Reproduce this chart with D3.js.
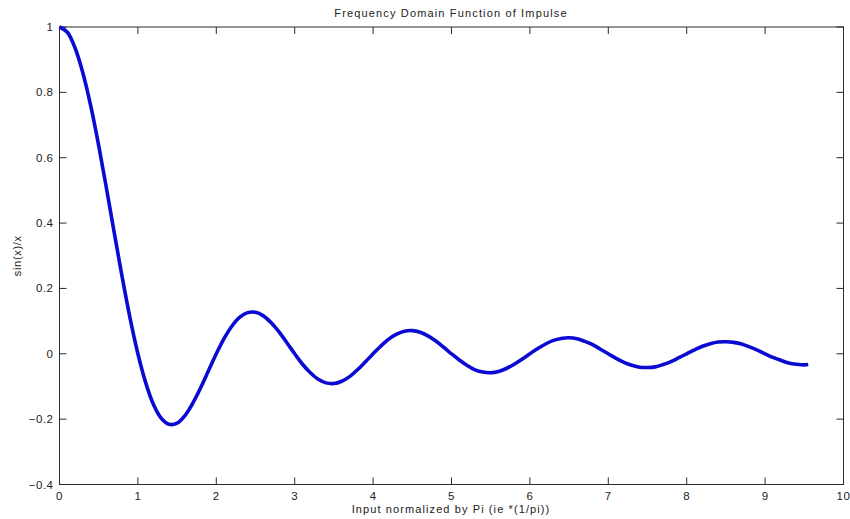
<!DOCTYPE html>
<html>
<head>
<meta charset="utf-8">
<script src="https://cdn.jsdelivr.net/npm/d3@7"></script>
<style>
  body { margin: 0; background: #fff; }
  text { font-family: "Liberation Sans", Arial, sans-serif; fill: #222; }
</style>
</head>
<body>
<svg id="chart" width="850" height="519"></svg>
<script>
// ======== DATA ========
const xValues = [
  0, 0.1, 0.2, 0.3, 0.4, 0.5, 0.6, 0.7, 0.8, 0.9,
  1.0, 1.1, 1.2, 1.3, 1.4, 1.5, 1.6, 1.7, 1.8, 1.9,
  2.0, 2.1, 2.2, 2.3, 2.4, 2.5, 2.6, 2.7, 2.8, 2.9,
  3.0, 3.1, 3.2, 3.3, 3.4, 3.5, 3.6, 3.7, 3.8, 3.9,
  4.0, 4.1, 4.2, 4.3, 4.4, 4.5, 4.6, 4.7, 4.8, 4.9,
  5.0, 5.1, 5.2, 5.3, 5.4, 5.5, 5.6, 5.7, 5.8, 5.9,
  6.0, 6.1, 6.2, 6.3, 6.4, 6.5, 6.6, 6.7, 6.8, 6.9,
  7.0, 7.1, 7.2, 7.3, 7.4, 7.5, 7.6, 7.7, 7.8, 7.9,
  8.0, 8.1, 8.2, 8.3, 8.4, 8.5, 8.6, 8.7, 8.8, 8.9,
  9.0, 9.1, 9.2, 9.3, 9.4, 9.5, 9.55
];
const yValues = [
  1.000, 0.984, 0.935, 0.858, 0.757, 0.637, 0.505, 0.368, 0.234, 0.109,
  0.000, -0.089, -0.156, -0.198, -0.216, -0.212, -0.189, -0.151, -0.104, -0.052,
  0.000, 0.047, 0.085, 0.112, 0.126, 0.127, 0.116, 0.095, 0.067, 0.034,
  0.000, -0.032, -0.058, -0.078, -0.089, -0.091, -0.084, -0.070, -0.049, -0.025,
  0.000, 0.024, 0.045, 0.060, 0.069, 0.071, 0.066, 0.055, 0.039, 0.020,
  0.000, -0.019, -0.036, -0.049, -0.056, -0.058, -0.054, -0.045, -0.032, -0.017,
  0.000, 0.016, 0.030, 0.041, 0.047, 0.049, 0.046, 0.038, 0.028, 0.014,
  0.000, -0.014, -0.026, -0.035, -0.041, -0.042, -0.040, -0.033, -0.024, -0.012,
  0.000, 0.012, 0.023, 0.031, 0.036, 0.037, 0.035, 0.030, 0.021, 0.011,
  0.000, -0.011, -0.020, -0.028, -0.032, -0.034, -0.033
];
const xTicks = [0, 1, 2, 3, 4, 5, 6, 7, 8, 9, 10];
const yTicks = [-0.4, -0.2, 0, 0.2, 0.4, 0.6, 0.8, 1];
const titleText = 'Frequency Domain Function of Impulse';
const xLabelText = 'Input normalized by Pi (ie *(1/pi))';
const yLabelText = 'sin(x)/x';

// ======== LAYOUT ========
const svg = d3.select('#chart');
const margin = { left: 59.5, right: 6.5, top: 27, bottom: 34.5 };
const W = 850, H = 519;
const x = d3.scaleLinear().domain([0, 10]).range([margin.left, W - margin.right]);
const y = d3.scaleLinear().domain([-0.4, 1]).range([H - margin.bottom, margin.top]);
const TICK = 7;

const axisColor = '#2a2a2a';

// frame
svg.append('rect')
  .attr('x', x(0)).attr('y', y(1))
  .attr('width', x(10) - x(0)).attr('height', y(-0.4) - y(1))
  .attr('fill', 'none').attr('stroke', axisColor).attr('stroke-width', 1);

// inward ticks on all four sides
const fmt = d => d3.format('~g')(d);
xTicks.forEach(t => {
  svg.append('line').attr('x1', x(t)).attr('x2', x(t))
    .attr('y1', y(-0.4)).attr('y2', y(-0.4) - TICK)
    .attr('stroke', axisColor);
  svg.append('line').attr('x1', x(t)).attr('x2', x(t))
    .attr('y1', y(1)).attr('y2', y(1) + TICK)
    .attr('stroke', axisColor);
  svg.append('text').attr('x', x(t)).attr('y', y(-0.4) + 15)
    .attr('text-anchor', 'middle').attr('font-size', 11.5)
    .attr('letter-spacing', 0.5)
    .text(fmt(t));
});
yTicks.forEach(t => {
  svg.append('line').attr('x1', x(0)).attr('x2', x(0) + TICK)
    .attr('y1', y(t)).attr('y2', y(t))
    .attr('stroke', axisColor);
  svg.append('line').attr('x1', x(10)).attr('x2', x(10) - TICK)
    .attr('y1', y(t)).attr('y2', y(t))
    .attr('stroke', axisColor);
  svg.append('text').attr('x', x(0) - 6).attr('y', y(t) + 4)
    .attr('text-anchor', 'end').attr('font-size', 11.5)
    .attr('letter-spacing', 0.5)
    .text(fmt(t));
});

// curve
const pts = xValues.map((v, i) => [v, yValues[i]]);
const line = d3.line()
  .x(d => x(d[0])).y(d => y(d[1]))
  .curve(d3.curveCatmullRom);
svg.append('path')
  .datum(pts)
  .attr('d', line)
  .attr('fill', 'none')
  .attr('stroke', '#0a0ad2')
  .attr('stroke-width', 3.6)
  .attr('stroke-linejoin', 'round');

// labels
svg.append('text').attr('x', 451).attr('y', 17)
  .attr('text-anchor', 'middle').attr('font-size', 11)
  .attr('letter-spacing', 1.15)
  .text(titleText);
svg.append('text').attr('x', 451).attr('y', 513)
  .attr('text-anchor', 'middle').attr('font-size', 11)
  .attr('letter-spacing', 1.1)
  .text(xLabelText);
svg.append('text')
  .attr('transform', `translate(21,${(y(1) + y(-0.4)) / 2}) rotate(-90)`)
  .attr('text-anchor', 'middle').attr('font-size', 11)
  .attr('letter-spacing', 0.7)
  .text(yLabelText);
</script>
</body>
</html>
